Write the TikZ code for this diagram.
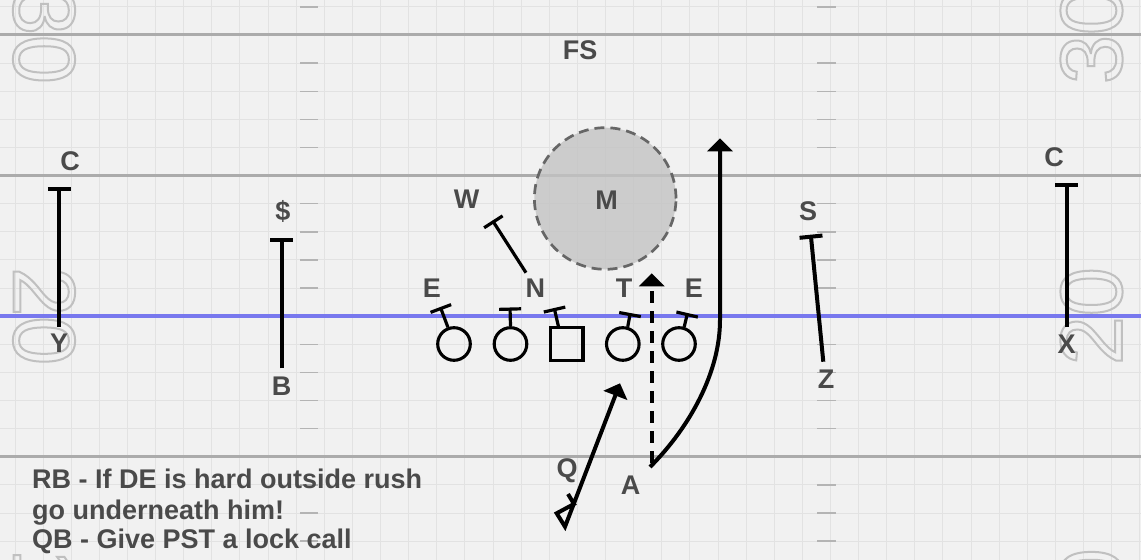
\documentclass[tikz,border=0pt]{standalone}
\usepackage{fontspec}
\setmainfont{Liberation Sans}
\usetikzlibrary{arrows.meta}
\definecolor{bgc}{HTML}{F1F1F1}
\definecolor{gridc}{HTML}{E2E2E2}
\definecolor{hashc}{HTML}{B4B4B4}
\definecolor{yardc}{HTML}{ABABAB}
\definecolor{losc}{HTML}{7878EE}
\definecolor{numc}{HTML}{C0C0C0}
\definecolor{lblc}{HTML}{4A4A4A}
\definecolor{zonec}{HTML}{C3C3C3}
\definecolor{zonedash}{HTML}{666666}
\newcommand\outlinetext[1]{\special{pdf:literal direct 1 Tr 1 w}#1\special{pdf:literal direct 0 Tr}}
\tikzset{
  gridl/.style={draw=gridc, line width=0.5pt},
  hashl/.style={draw=hashc, line width=0.75pt},
  yardl/.style={draw=yardc, line width=1.5pt},
  losl/.style={draw=losc, line width=2pt},
  numtxt/.style={font=\fontsize{44pt}{44pt}\selectfont, text=numc, inner sep=0pt},
  lbl/.style={font=\fontsize{13.5pt}{16pt}\selectfont\bfseries, text=lblc, inner sep=0pt},
  note/.style={font=\fontsize{13.5pt}{16pt}\selectfont\bfseries, text=lblc, inner sep=0pt, anchor=base west},
  olc/.style={draw=black, line width=1.55pt, circle, minimum size=16.3pt, inner sep=0pt},
  ols/.style={draw=black, line width=1.55pt, rectangle, minimum size=16.3pt, inner sep=0pt},
  blk/.style={draw=black, line width=1.6pt, -{Bar[width=11pt]}},
  rcv/.style={draw=black, line width=2pt, -{Bar[width=11.5pt]}},
  route/.style={draw=black, line width=2pt, -{Triangle[width=12.5pt,length=6.5pt]}},
  zone/.style={circle, minimum size=70.8pt, inner sep=0pt, fill=zonec, fill opacity=0.8, draw=zonedash, draw opacity=1, line width=1.35pt, dash pattern=on 5pt off 3pt},
}
\begin{document}
\begin{tikzpicture}[x=0.5pt,y=-0.5pt]
\useasboundingbox (0,0) rectangle (1141,560);
\clip (0,0) rectangle (1141,560);
\fill[bgc] (0,0) rectangle (1141,560);
% grid
\foreach \k in {0,...,40} \draw[gridl] ({15+28.12*\k},0) -- ({15+28.12*\k},560);
\foreach \k in {0,...,19} \draw[gridl] (0,{6.9+28.12*\k}) -- (1141,{6.9+28.12*\k});
% hash marks
\foreach \k in {0,2,3,4,5,7,8,9,10,12,13,14,15,17,18,19} {
  \draw[hashl] (300,{6.9+28.12*\k}) -- (318,{6.9+28.12*\k});
  \draw[hashl] (817,{6.9+28.12*\k}) -- (836,{6.9+28.12*\k});
}
% yard lines
\draw[yardl] (0,35.0) -- (1141,35.0);
\draw[yardl] (0,175.6) -- (1141,175.6);
\draw[yardl] (0,456.8) -- (1141,456.8);
\draw[losl] (0,316.2) -- (1141,316.2);
% yard numbers
\node[numtxt, rotate=-90] (n30l) at (44,35) {\outlinetext{30}};
\node[numtxt, rotate=-90] (n20l) at (44,316.2) {\outlinetext{20}};
\node[numtxt, rotate=-90] (n10l) at (44,597.4) {\outlinetext{10}};
\node[numtxt, rotate=90] (n30r) at (1091.5,35) {\outlinetext{30}};
\node[numtxt, rotate=90] (n20r) at (1091.5,316.2) {\outlinetext{20}};
\node[numtxt, rotate=90] (n10r) at (1091.5,597.4) {\outlinetext{10}};
% zone
\node[zone] (mzone) at (605.2,198.5) {};
% labels
\node[lbl] (fs) at (580,50.3) {FS};
\node[lbl] (mlab) at (606.7,200) {M};
\node[lbl] (cl) at (70,161.7) {C};
\node[lbl] (dol) at (283,211) {\$};
\node[lbl] (wl) at (466.5,199.5) {W};
\node[lbl] (sl) at (808,211) {S};
\node[lbl] (cr) at (1054,157.5) {C};
\node[lbl] (e1) at (432,288.3) {E};
\node[lbl] (nl) at (535.3,288.3) {N};
\node[lbl] (tl) at (624.2,288.3) {T};
\node[lbl] (e2) at (693.8,288.3) {E};
\node[lbl] (yl) at (59.2,343.3) {Y};
\node[lbl] (bl) at (281.7,386.3) {B};
\node[lbl] (zl) at (826,379.3) {Z};
\node[lbl] (xl) at (1066.7,344.2) {X};
\node[lbl] (ql) at (567,471) {Q};
\node[lbl] (al) at (630.7,485.5) {A};
% offensive line
\node[olc] (ol1) at (454,344) {};
\node[olc] (ol2) at (510.5,344) {};
\node[ols] (cen) at (566.7,344) {};
\node[olc] (ol4) at (622.8,344) {};
\node[olc] (ol5) at (679,344) {};
% block ends
\coordinate (b1) at (440.3,307);
\coordinate (b2) at (510,307.5);
\coordinate (b3) at (554.2,308);
\coordinate (b4) at (630.3,313);
\coordinate (b5) at (687.5,313);
\draw[blk] (ol1.110) -- (b1);
\draw[blk] (ol2.north) -- (b2);
\draw[blk] (cen.115) -- (b3);
\draw[blk] (ol4.74) -- (b4);
\draw[blk] (ol5.73) -- (b5);
% W block
\coordinate (w0) at (526,272.7);
\coordinate (w1) at (492.5,220.5);
\draw[blk] (w0) -- (w1);
% receivers
\coordinate (y0) at (59.3,326.7);
\coordinate (y1) at (59.3,187.3);
\draw[rcv] (y0) -- (y1);
\coordinate (bb0) at (281.7,368.3);
\coordinate (bb1) at (281.7,238);
\draw[rcv] (bb0) -- (bb1);
\coordinate (z0) at (823.3,361.7);
\coordinate (z1) at (810.8,234.7);
\draw[rcv] (z0) -- (z1);
\coordinate (x0) at (1066.7,326.7);
\coordinate (x1) at (1066.7,183.5);
\draw[rcv] (x0) -- (x1);
% QB route
\coordinate (q0) at (568,494);
\coordinate (q1) at (574,504);
\coordinate (q2) at (556.7,513.3);
\coordinate (q3) at (565,526.7);
\coordinate (q4) at (620,383.3);
\draw[route] (q0) -- (q1) -- (q2) -- (q3) -- (q4);
% dashed
\coordinate (d0) at (651.7,463);
\coordinate (d1) at (651.7,273.3);
\draw[route, dash pattern=on 6pt off 4pt] (d0) -- (d1);
% A route
\coordinate (a0) at (650,467);
\coordinate (a1) at (720,320);
\coordinate (a2) at (720,138.3);
\draw[route] (a0) .. controls (690,427) and (720,372) .. (a1) -- (a2);
% notes
\node[note] (t1) at (31.7,488.3) {RB - If DE is hard outside rush};
\node[note] (t2) at (31.7,519.3) {go underneath him!};
\node[note] (t3) at (31.7,548.3) {QB - Give PST a lock call};
\end{tikzpicture}
\end{document}
